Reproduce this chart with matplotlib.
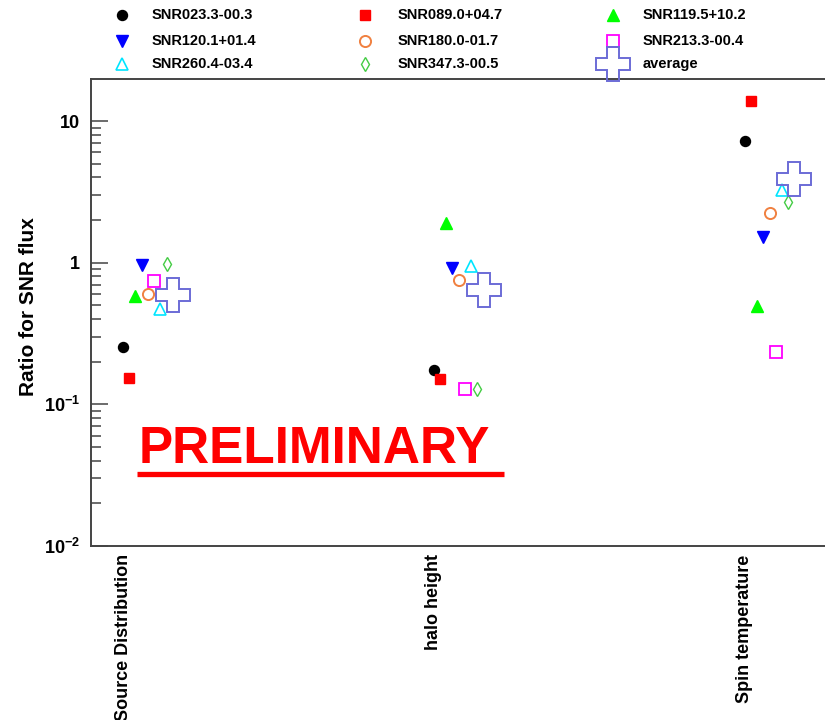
import matplotlib
matplotlib.use("Agg")
import matplotlib.pyplot as plt
from matplotlib.lines import Line2D
from matplotlib.ticker import FixedLocator, FixedFormatter, LogLocator, NullFormatter, NullLocator

plt.rcParams["font.family"] = "Liberation Sans"
plt.rcParams["font.weight"] = "bold"
plt.rcParams["mathtext.fontset"] = "custom"
plt.rcParams["mathtext.rm"] = "Liberation Sans:bold"
plt.rcParams["mathtext.bf"] = "Liberation Sans:bold"
plt.rcParams["mathtext.it"] = "Liberation Sans:bold"

# systematic variations
categories = ["Source Distribution", "halo height", "Spin temperature"]

# flux ratio per SNR, one value per variation
snr023 = [0.255, 0.176, 7.23]
snr089 = [0.154, 0.150, 13.9]
snr119 = [0.579, 1.92, 0.492]
snr120 = [0.968, 0.918, 1.53]
snr180 = [0.602, 0.759, 2.26]
snr213 = [0.747, 0.129, 0.233]
snr260 = [0.472, 0.942, 3.27]
snr347 = [0.979, 0.128, 2.68]
average = [0.595, 0.645, 3.92]

names = ["SNR023.3-00.3", "SNR089.0+04.7", "SNR119.5+10.2",
         "SNR120.1+01.4", "SNR180.0-01.7", "SNR213.3-00.4",
         "SNR260.4-03.4", "SNR347.3-00.5", "average"]
values = [snr023, snr089, snr119, snr120, snr180, snr213, snr260, snr347, average]

# marker, size, face colour, edge colour, edge width
styles = [
    ("o", 7.2, "black", "black", 1.0),
    ("s", 7.0, "red", "red", 1.0),
    ("^", 8.0, "#00ff00", "#00ff00", 1.0),
    ("v", 8.0, "blue", "blue", 1.0),
    ("o", 8.0, "none", "#f08040", 1.4),
    ("s", 8.0, "none", "#ff00ff", 1.3),
    ("^", 8.5, "none", "#00e5ff", 1.2),
    ("d", 7.0, "none", "#44cc44", 1.0),
    ("P", 24.0, "none", "#6b6bd6", 1.4),
]

W, H = 825, 720
fig = plt.figure(figsize=(W / 100, H / 100), dpi=100)


def fx(px):
    return px / W


def fy(py):
    return 1 - py / H


ax = fig.add_axes([fx(91), fy(546), fx(832) - fx(91), fy(79) - fy(546)])

step = 0.02
for j, (vals, st) in enumerate(zip(values, styles)):
    m, ms, fc, ec, mew = st
    xs = [i + j * step for i in range(len(categories))]
    ax.plot(xs, vals, linestyle="none", marker=m, markersize=ms,
            markerfacecolor=fc, markeredgecolor=ec, markeredgewidth=mew,
            clip_on=False, zorder=3)

ax.set_yscale("log")
ax.set_ylim(0.01, 19.8)
ax.set_xlim(-0.103, 2.281)

ax.yaxis.set_major_locator(FixedLocator([0.01, 0.1, 1, 10]))
ax.yaxis.set_major_formatter(FixedFormatter([r"$\mathbf{10^{-2}}$", r"$\mathbf{10^{-1}}$", "1", "10"]))
ax.yaxis.set_minor_locator(LogLocator(base=10, subs=range(2, 10)))
ax.yaxis.set_minor_formatter(NullFormatter())
ax.tick_params(axis="y", which="major", direction="in", length=12.5, width=1.1,
               color="#444444", labelsize=13, pad=8)
ax.tick_params(axis="y", which="minor", direction="in", length=7.2, width=1.1,
               color="#444444")

ax.set_xticks(range(len(categories)))
ax.set_xticklabels(categories, rotation=90, fontsize=13, fontweight="bold", va="top", ha="center")
ax.tick_params(axis="x", length=0, pad=6)
ax.xaxis.set_minor_locator(NullLocator())

for sp in ax.spines.values():
    sp.set_color("#444444")
    sp.set_linewidth(1.4)

fig.text(fx(28), fy(307), "Ratio for SNR flux", rotation=90, fontsize=15,
         fontweight="bold", ha="center", va="center")

# legend, three entries per row above the frame
col_marker = [122, 365, 613]
col_text = [152, 398, 643]
row_y = [15, 41, 64]
for k, (name, st) in enumerate(zip(names, styles)):
    r, c = divmod(k, 3)
    m, ms, fc, ec, mew = st
    fig.add_artist(Line2D([fx(col_marker[c])], [fy(row_y[r])], transform=fig.transFigure,
                          linestyle="none", marker=m, markersize=ms,
                          markerfacecolor=fc, markeredgecolor=ec, markeredgewidth=mew,
                          zorder=5))
    fig.text(fx(col_text[c]), fy(row_y[r]), name, fontsize=10.5, fontweight="bold",
             ha="left", va="center")

fig.text(fx(139), fy(463), "PRELIMINARY", color="red", fontsize=37, fontweight="bold",
         ha="left", va="baseline")
fig.add_artist(Line2D([fx(137), fx(504)], [fy(474), fy(474)], transform=fig.transFigure,
                      color="red", linewidth=3.8, solid_capstyle="butt"))

fig.savefig("out.png", dpi=100)
